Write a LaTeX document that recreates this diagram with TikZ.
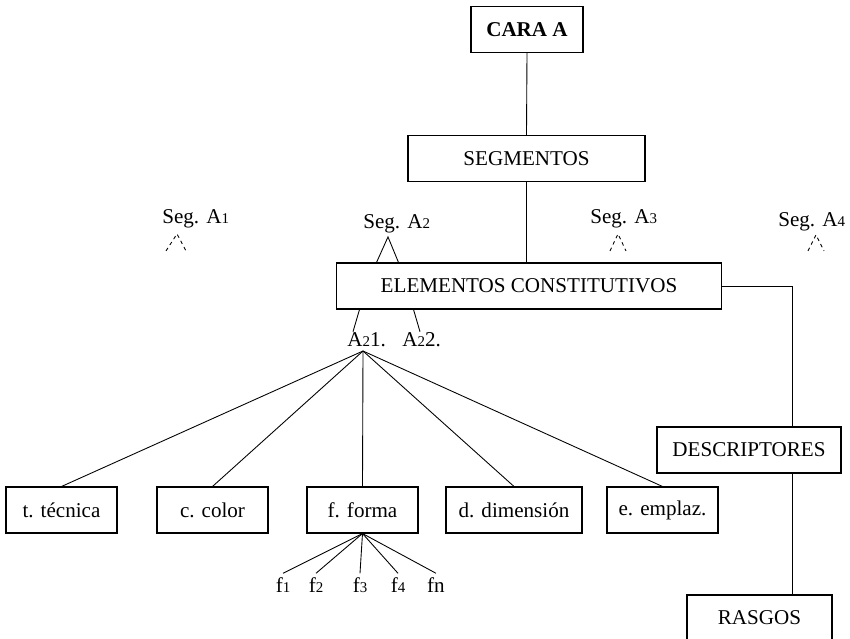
\documentclass[tikz,border=0pt]{standalone}
\usepackage{fontspec}
\setmainfont{Liberation Serif}
\usetikzlibrary{positioning,calc}

% small digits as printed in the labels (A1, f1, ...)
\newcommand{\dg}[1]{{\fontsize{8.5}{8.5}\selectfont #1}}

\tikzset{
  box/.style={draw, line width=0.6pt, inner sep=0pt, minimum height=0.92cm, font=\fontsize{12}{14}\selectfont},
  lbl/.style={inner sep=0pt, font=\fontsize{12}{14}\selectfont},
  link/.style={line width=0.5pt},
  ghost/.style={line width=0.5pt, dash pattern=on 2pt off 2pt}
}

\begin{document}
\begin{tikzpicture}[x=0.02cm, y=-0.02cm]
\useasboundingbox (0,0) rectangle (850,639);

% Main column
\node[box, minimum width=2.24cm, font=\bfseries\fontsize{12}{14}\selectfont] (cara) at (527,29.5) {CARA A};
\node[box, minimum width=4.74cm] (segm) at (526.5,158.5) {SEGMENTOS};
\node[box, minimum width=7.72cm] (elem) at (529,286) {ELEMENTOS CONSTITUTIVOS};

\draw[link] (cara.south) -- (segm.north);
\draw[link] (segm.south) -- (segm.south |- elem.north);

% Segments
\node[lbl, anchor=base west] (sega1) at (162,223) {Seg. A\dg{1}};
\node[lbl, anchor=base west] (sega2) at (363,228) {Seg. A\dg{2}};
\node[lbl, anchor=base west] (sega3) at (590,223) {Seg. A\dg{3}};
\node[lbl, anchor=base west] (sega4) at (778,226) {Seg. A\dg{4}};

\draw[link] ($(elem.north west)+(41,0)$) -- ($(sega2.south west)+(25,4)$) -- ($(elem.north west)+(63,0)$);
\foreach \s/\ax/\ay/\lx/\rx/\fy in {sega1/15/6/4/24/23, sega3/28/6/20/36/23, sega4/38/4/30/46/20}
  \draw[ghost] ($(\s.south west)+(\lx,\fy)$) -- ($(\s.south west)+(\ax,\ay)$) -- ($(\s.south west)+(\rx,\fy)$);

% Sub-elements
\node[lbl, anchor=base west] (a21) at (347,346) {A\dg{2}1.};
\node[lbl, anchor=base west] (a22) at (402,346) {A\dg{2}2.};
\draw[link] ($(a21.north west)+(6,0)$) -- ($(elem.south west)+(24,0)$);
\draw[link] ($(a22.north west)+(18,0)$) -- ($(elem.south west)+(78,0)$);
\coordinate (a21fan) at (363,351);

% Variables
\foreach \n/\x/\w/\t in {tec/61.5/2.22/t. técnica, col/212.5/2.22/c. color, forma/362.5/2.22/f. forma, dim/514/2.72/d. dimensión, emp/662.5/2.22/e. emplaz.}
  \node[box, minimum width=\w cm] (\n) at (\x,510) {\t};
\foreach \n in {tec,col,forma,dim,emp}
  \draw[link] (a21fan) -- (\n.north);

% Forms
\foreach \n/\x/\t in {f1/283/f\dg{1}, f2/316/f\dg{2}, f3/360/f\dg{3}, f4/398/f\dg{4}, fn/436/fn}
  \node[lbl, anchor=base, inner sep=2pt] (\n) at (\x,592) {\t};
\foreach \n in {f1,f2,f3,f4,fn}
  \draw[link] (forma.south) -- (\n.north);

% Descriptors
\node[box, minimum width=3.68cm] (desc) at (749,450) {DESCRIPTORES};
\node[box, minimum width=2.9cm, minimum height=0.9cm] (rasgos) at (759.5,617.5) {RASGOS};
\coordinate (rail) at (792,287);
\draw[link] (elem.east) -| (rail |- desc.north);
\draw[link] (rail |- desc.south) -- (rail |- rasgos.north);

\end{tikzpicture}
\end{document}
